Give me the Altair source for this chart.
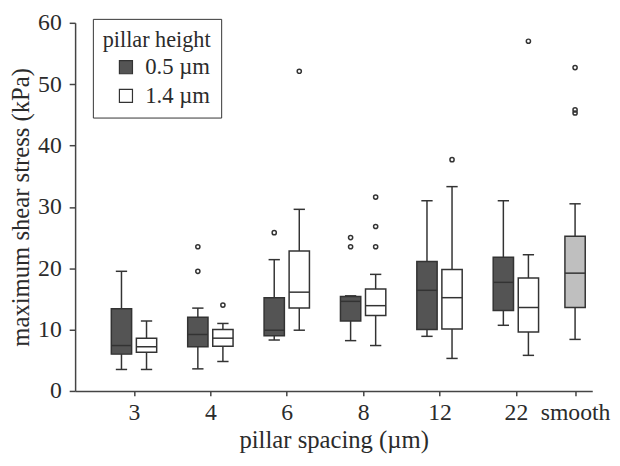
import altair as alt
import pandas as pd

# ---- data ----
spacing = ["3", "4", "6", "8", "12", "22", "smooth"]
group = ["0.5 µm", "1.4 µm"]

# per box: (spacing, pillar height)
box_spacing = ["3", "3", "4", "4", "6", "6", "8", "8", "12", "12", "22", "22", "smooth"]
box_group = ["0.5 µm", "1.4 µm"] * 6 + ["smooth"]
lo  = [3.5, 3.5, 3.6, 4.8, 8.3, 9.9, 8.2, 7.4, 8.9, 5.3, 10.7, 5.8, 8.4]
q1  = [6.0, 6.3, 7.2, 7.3, 9.0, 13.5, 11.4, 12.3, 10.0, 10.1, 13.1, 9.6, 13.6]
med = [7.4, 7.2, 9.2, 8.6, 9.9, 16.1, 14.6, 13.9, 16.4, 15.2, 17.7, 13.6, 19.2]
q3  = [13.4, 8.6, 12.0, 10.0, 15.2, 22.8, 15.4, 16.6, 21.1, 19.8, 21.8, 18.4, 25.2]
hi  = [19.5, 11.4, 13.5, 11.0, 21.4, 29.6, 15.5, 19.0, 31.0, 33.3, 31.0, 22.2, 30.5]

out_spacing = ["4", "4", "4", "6", "6", "8", "8", "8", "8", "8", "12", "22", "smooth", "smooth", "smooth"]
out_group = ["0.5 µm", "0.5 µm", "1.4 µm", "0.5 µm", "1.4 µm", "0.5 µm", "0.5 µm",
             "1.4 µm", "1.4 µm", "1.4 µm", "1.4 µm", "1.4 µm", "smooth", "smooth", "smooth"]
out_value = [23.5, 19.5, 14.0, 25.8, 52.1, 25.0, 23.5, 31.6, 26.8, 23.5, 37.7, 57.0, 52.7, 45.8, 45.3]

# ---- layout constants (axis positions, not data) ----
axis_pos = {"3": 1, "4": 2, "6": 3, "8": 4, "12": 5, "22": 6, "smooth": 6.775}
grp_off = {"0.5 µm": -0.164, "1.4 µm": 0.164, "smooth": 0.0}
HW = 0.133   # half box width
CAP = 0.074  # half cap width

boxes = pd.DataFrame({"spacing": box_spacing, "group": box_group,
                      "lo": lo, "q1": q1, "med": med, "q3": q3, "hi": hi})
boxes["c"] = [axis_pos[s] + grp_off[g] for s, g in zip(box_spacing, box_group)]
boxes["bl"] = boxes["c"] - HW
boxes["br"] = boxes["c"] + HW
boxes["cl"] = boxes["c"] - CAP
boxes["cr"] = boxes["c"] + CAP

outs = pd.DataFrame({"spacing": out_spacing, "group": out_group, "v": out_value})
outs["c"] = [axis_pos[s] + grp_off[g] for s, g in zip(out_spacing, out_group)]

FONT = "Liberation Serif"
TXT = "#2b2b2b"
LINE = "#333333"

label_expr = " : ".join(
    [f"datum.value == {axis_pos[s]} ? '{s}'" for s in spacing]) + " : ''"

xscale = alt.Scale(domain=[0.229, 7.0], nice=False, zero=False)
yscale = alt.Scale(domain=[0, 60], nice=False)

xaxis = alt.Axis(values=[axis_pos[s] for s in spacing], labelExpr=label_expr,
                 title="pillar spacing (µm)", grid=False, tickSize=5,
                 labelPadding=5, titlePadding=3, labelFontSize=24, titleFontSize=25)
yaxis = alt.Axis(values=[0, 10, 20, 30, 40, 50, 60], title="maximum shear stress (kPa)",
                 grid=False, tickSize=6, labelPadding=8, titlePadding=4,
                 labelFontSize=24, titleFontSize=25)

base = alt.Chart(boxes)

whisker = base.mark_rule(color=LINE, strokeWidth=1.5).encode(
    x=alt.X("c:Q", scale=xscale, axis=xaxis),
    y=alt.Y("lo:Q", scale=yscale, axis=yaxis),
    y2="hi:Q",
)
cap_hi = base.mark_rule(color=LINE, strokeWidth=1.5).encode(
    x=alt.X("cl:Q", scale=xscale), x2="cr:Q", y=alt.Y("hi:Q", scale=yscale))
cap_lo = base.mark_rule(color=LINE, strokeWidth=1.5).encode(
    x=alt.X("cl:Q", scale=xscale), x2="cr:Q", y=alt.Y("lo:Q", scale=yscale))

color_scale = alt.Scale(domain=["0.5 µm", "1.4 µm", "smooth"],
                        range=["#545454", "#ffffff", "#bfbfbf"])

box = base.mark_rect(stroke=LINE, strokeWidth=1.5).encode(
    x=alt.X("bl:Q", scale=xscale), x2="br:Q",
    y=alt.Y("q1:Q", scale=yscale), y2="q3:Q",
    fill=alt.Fill("group:N", scale=color_scale,
                  legend=alt.Legend(title="pillar height", values=["0.5 µm", "1.4 µm"],
                                    orient="none", legendX=18, legendY=-4,
                                    symbolType="square", symbolSize=175,
                                    symbolStrokeColor=LINE, symbolStrokeWidth=1.2,
                                    symbolOffset=12, labelOffset=8,
                                    labelFontSize=23, titleFontSize=22.5,
                                    titleFontWeight="normal", titlePadding=5,
                                    rowPadding=5, padding=10,
                                    strokeColor=LINE, fillColor="white")),
)
median = base.mark_rule(color=LINE, strokeWidth=1.5).encode(
    x=alt.X("bl:Q", scale=xscale), x2="br:Q", y=alt.Y("med:Q", scale=yscale))

points = alt.Chart(outs).mark_point(shape="circle", filled=False, color=LINE,
                                    strokeWidth=1.5, size=18, opacity=1).encode(
    x=alt.X("c:Q", scale=xscale), y=alt.Y("v:Q", scale=yscale))

chart = alt.layer(whisker, cap_hi, cap_lo, box, median, points).properties(
    width=524, height=373,
    autosize=alt.AutoSizeParams(type="none"),
    padding={"left": 68, "top": 12, "right": 20, "bottom": 70},
).configure(font=FONT).configure_view(stroke=None).configure_axis(
    domainColor="#444444", domainWidth=1.5, tickColor="#444444", tickWidth=1.5,
    labelColor=TXT, titleColor=TXT, labelFont=FONT, titleFont=FONT,
    titleFontWeight="normal",
).configure_legend(labelColor=TXT, titleColor=TXT, labelFont=FONT, titleFont=FONT)

chart.save("out.html", embed_options={"renderer": "svg", "actions": False})
